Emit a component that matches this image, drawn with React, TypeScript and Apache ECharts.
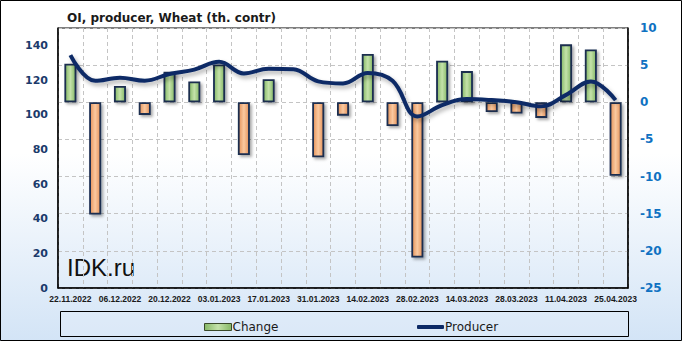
import React, { useEffect, useRef } from "react";
import * as echarts from "echarts";

const categories = [
  "22.11.2022", "29.11.2022", "06.12.2022", "13.12.2022", "20.12.2022", "27.12.2022",
  "03.01.2023", "10.01.2023", "17.01.2023", "24.01.2023", "31.01.2023", "07.02.2023",
  "14.02.2023", "21.02.2023", "28.02.2023", "07.03.2023", "14.03.2023", "21.03.2023",
  "28.03.2023", "04.04.2023", "11.04.2023", "18.04.2023", "25.04.2023",
];

const changeValues = [
  5.2, -15.1, 2.2, -1.7, 4.1, 2.8, 5.1, -7.1, 3.1, -0.2, -7.4, -1.8,
  6.5, -3.2, -20.9, 5.6, 4.2, -1.3, -1.5, -2.1, 7.8, 7.1, -9.9,
];

const producerValues = [
  134.3, 119.5, 121.3, 119.6, 123.5, 126.0, 130.5, 123.8, 126.5, 126.2, 119.2, 118.0,
  124.0, 119.5, 99.0, 105.5, 109.0, 108.4, 107.2, 104.8, 111.4, 119.2, 108.4,
];

const greenFill = {
  type: "linear", x: 0, y: 0, x2: 1, y2: 0,
  colorStops: [
    { offset: 0, color: "#86b866" },
    { offset: 0.5, color: "#c4e2aa" },
    { offset: 1, color: "#86b866" },
  ],
};
const orangeFill = {
  type: "linear", x: 0, y: 0, x2: 1, y2: 0,
  colorStops: [
    { offset: 0, color: "#e5935a" },
    { offset: 0.5, color: "#fac9a0" },
    { offset: 1, color: "#e5935a" },
  ],
};

export default function App() {
  const ref = useRef<HTMLDivElement>(null);
  useEffect(() => {
    if (!ref.current) return;
    const chart = echarts.init(ref.current, undefined, { renderer: "svg" });
    chart.setOption({
      animation: false,
      backgroundColor: {
        type: "linear", x: 0, y: 0, x2: 0, y2: 1,
        colorStops: [
          { offset: 0, color: "#ffffff" },
          { offset: 0.45, color: "#ffffff" },
          { offset: 1, color: "#d3e4f6" },
        ],
      },
      title: {
        text: "OI, producer, Wheat (th. contr)",
        left: 62,
        top: 7,
        textStyle: { fontFamily: "DejaVu Sans", fontWeight: "bold", fontSize: 12, color: "#1a1a1a" },
      },
      grid: {
        left: 58, right: 54, top: 28, bottom: 53,
        show: true, borderColor: "#000", borderWidth: 1, backgroundColor: "transparent",
      },
      legend: [
        {
          data: [{ name: "Change", icon: "rect" }],
          left: 199, top: 316, itemWidth: 27, itemHeight: 7, itemGap: 4,
          itemStyle: { borderColor: "#3a4a2a", borderWidth: 1 },
          textStyle: { fontFamily: "DejaVu Sans", fontSize: 12, color: "#1a1a1a", padding: [0, 0, 0, -4] },
        },
        {
          data: [{ name: "Producer", icon: "roundRect" }],
          left: 412, top: 316, itemWidth: 27, itemHeight: 4, itemGap: 4,
          textStyle: { fontFamily: "DejaVu Sans", fontSize: 12, color: "#1a1a1a", padding: [0, 0, 0, -4] },
        },
      ],
      xAxis: {
        type: "category",
        data: categories,
        boundaryGap: true,
        axisLine: { lineStyle: { color: "#000", width: 1.5 } },
        axisTick: { show: false },
        axisLabel: {
          interval: 1,
          fontFamily: "Liberation Sans",
          fontWeight: "bold",
          fontSize: 8.5,
          color: "#1a1a1a",
          margin: 6,
        },
        splitLine: { show: true, interval: 0, lineStyle: { color: "#c4c4c4", type: [4, 3], width: 1 } },
      },
      yAxis: [
        {
          type: "value",
          min: 0, max: 150, interval: 20,
          position: "left",
          axisLine: { show: true, lineStyle: { color: "#000", width: 1.5 } },
          axisTick: { show: false },
          splitLine: { show: false },
          axisLabel: {
            formatter: (v: number) => (v > 140 ? "" : String(v)),
            fontFamily: "DejaVu Sans", fontWeight: "bold", fontSize: 11, color: "#1b3a6b", margin: 10,
          },
        },
        {
          type: "value",
          min: -25, max: 10, interval: 5,
          position: "right",
          axisLine: { show: true, lineStyle: { color: "#000", width: 1.5 } },
          axisTick: { show: false },
          splitLine: { show: true, lineStyle: { color: "#c4c4c4", type: [4, 3], width: 1 } },
          axisLabel: {
            fontFamily: "DejaVu Sans", fontWeight: "bold", fontSize: 12, color: "#0f72c2", margin: 12,
          },
        },
      ],
      series: [
        {
          name: "Change",
          type: "bar",
          yAxisIndex: 1,
          barWidth: 12,
          data: changeValues.map((v) => ({
            value: v,
            itemStyle: {
              color: v >= 0 ? greenFill : orangeFill,
              borderColor: "#1a2d50",
              borderWidth: 1.8,
            },
          })),
          itemStyle: {
            color: greenFill,
            borderColor: "#1a2d50",
            borderWidth: 1.8,
            shadowColor: "rgba(0,0,0,0.35)",
            shadowBlur: 3,
            shadowOffsetX: 2,
            shadowOffsetY: 2,
          },
        },
        {
          name: "Producer",
          type: "line",
          yAxisIndex: 0,
          data: producerValues,
          smooth: 0.4,
          symbol: "none",
          showSymbol: false,
          color: "#0c2a66",
          lineStyle: {
            color: "#0c2a66",
            width: 4,
            shadowColor: "rgba(0,0,0,0.3)",
            shadowBlur: 4,
            shadowOffsetX: 2,
            shadowOffsetY: 3,
          },
          z: 5,
        },
      ],
      graphic: [
        {
          type: "rect",
          shape: { x: 0.5, y: 0.5, width: 681, height: 340 },
          style: { fill: "none", stroke: "#000", lineWidth: 1 },
          silent: true,
        },
        {
          type: "rect",
          shape: { x: 60.5, y: 311.5, width: 568, height: 25 },
          style: { fill: "rgba(255,255,255,0.15)", stroke: "#000", lineWidth: 1 },
          silent: true,
          z: -1,
        },
        {
          type: "text",
          left: 67,
          top: 255,
          style: { text: "IDK.ru", fontFamily: "Liberation Sans", fontSize: 24, fill: "#111" },
          silent: true,
        },
      ],
    });
    return () => chart.dispose();
  }, []);
  return (
    <div
      ref={ref}
      style={{ position: "fixed", left: 0, top: 0, width: 682, height: 341 }}
    />
  );
}
